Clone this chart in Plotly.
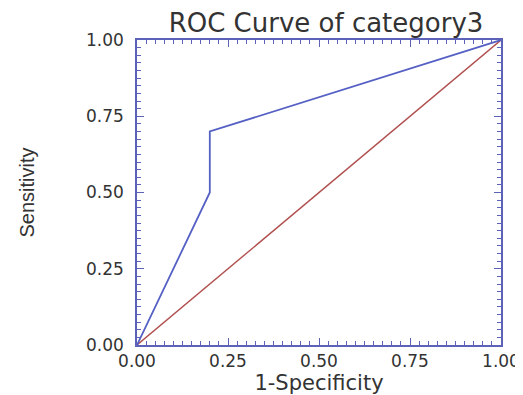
import plotly.graph_objects as go

roc_x = [0.0, 0.2, 0.2, 1.0]
roc_y = [0.0, 0.5, 0.7, 1.0]
diag_x = [0.0, 1.0]
diag_y = [0.0, 1.0]
tick_vals = [0.0, 0.25, 0.5, 0.75, 1.0]
tick_text = ["0.00", "0.25", "0.50", "0.75", "1.00"]

frame = "#5b62b8"
txt = "#333333"
wide = "DejaVu Sans, Verdana, Arial"

# the page body has an 8px margin, so the figure is drawn 8px right/down
W, H = 515, 387

fig = go.Figure()
fig.add_trace(go.Scatter(x=diag_x, y=diag_y, mode="lines",
                         line=dict(color="#b0504f", width=1.4), hoverinfo="skip"))
fig.add_trace(go.Scatter(x=roc_x, y=roc_y, mode="lines",
                         line=dict(color="#5560c4", width=1.8), hoverinfo="skip"))

axis_common = dict(
    range=[0, 1], tickvals=tick_vals, ticktext=tick_text,
    showgrid=False, zeroline=False, showline=True, linecolor=frame, linewidth=1.5,
    mirror="ticks", ticks="inside", ticklen=7, tickcolor=frame, tickwidth=1.2,
    minor=dict(dtick=0.025, ticks="inside", ticklen=4, tickcolor=frame, tickwidth=1),
    tickfont=dict(family=wide, size=17, color=txt),
    fixedrange=True, automargin=False,
)

fig.update_layout(
    width=W, height=H,
    margin=dict(l=129, r=22, t=32, b=50, autoexpand=False),
    paper_bgcolor="white", plot_bgcolor="white",
    showlegend=False,
    title=dict(text="ROC Curve of category3", x=318 / W, xanchor="center",
               y=1 - 15 / H, yanchor="middle", yref="container", xref="container",
               font=dict(family=wide, size=26, color=txt)),
    xaxis=dict(**axis_common, ticklabelstandoff=0,
               title=dict(text="1-Specificity", standoff=4,
                          font=dict(family=wide, size=21, color=txt))),
    yaxis=dict(**axis_common, ticklabelstandoff=8,
               title=dict(text="Sensitivity", standoff=46,
                          font=dict(family="Liberation Sans, Arial", size=20, color=txt))),
)

fig.write_html("out.html")
